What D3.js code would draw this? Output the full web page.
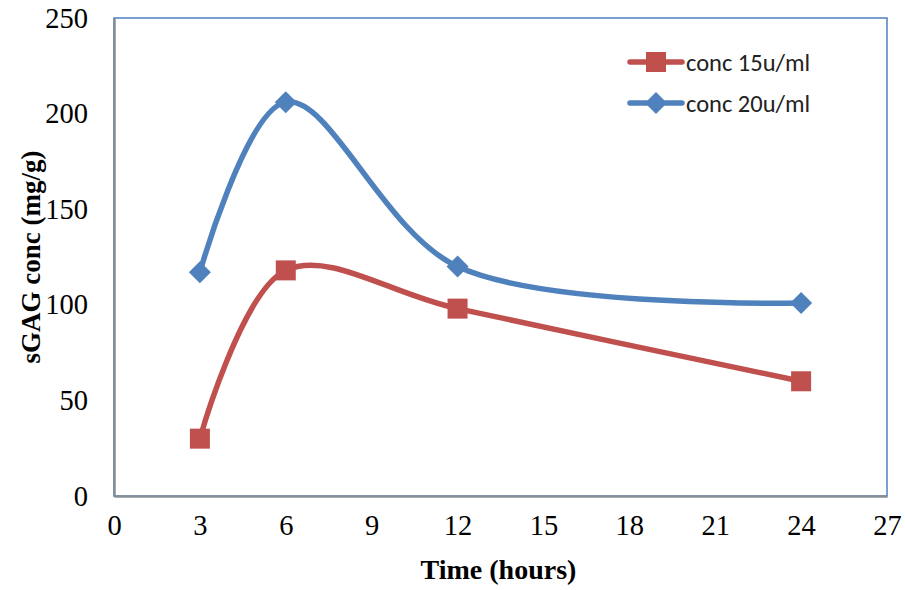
<!DOCTYPE html>
<html>
<head>
<meta charset="utf-8">
<script src="https://cdn.jsdelivr.net/npm/d3@7"></script>
<style>
  html, body { margin: 0; padding: 0; background: #fff; }
  svg { display: block; }
</style>
</head>
<body>
<svg id="chart" width="905" height="590"></svg>
<script>
// Sampling times (hours) and sGAG concentration per enzyme dose
const hours = [3, 6, 12, 24];
const conc15 = [30, 118, 98, 60];
const conc20 = [117, 206, 120, 101];
const xTicks = [0, 3, 6, 9, 12, 15, 18, 21, 24, 27];
const yTicks = [0, 50, 100, 150, 200, 250];
const seriesNames = ["conc 15u/ml", "conc 20u/ml"];

const svg = d3.select("#chart");
const margin = { left: 114, top: 18, right: 18, bottom: 94 };
const W = 905, H = 590;

const x = d3.scaleLinear().domain([0, 27]).range([margin.left, W - margin.right]);
const y = d3.scaleLinear().domain([0, 250]).range([H - margin.bottom, margin.top]);

const red = "#c0504d", blue = "#4f81bd", axisGray = "#868e96";
const tickFont = "'Liberation Serif', 'DejaVu Serif', serif";

// Plot frame: blue outline, grey axis lines on left and bottom
svg.append("rect")
  .attr("x", x(0)).attr("y", y(250))
  .attr("width", x(27) - x(0)).attr("height", y(0) - y(250))
  .attr("fill", "none").attr("stroke", blue).attr("stroke-width", 1.5);

const xAxis = svg.append("g")
  .attr("transform", `translate(0,${y(0)})`)
  .call(d3.axisBottom(x).tickValues(xTicks).tickSize(0).tickPadding(13));
const yAxis = svg.append("g")
  .attr("transform", `translate(${x(0)},0)`)
  .call(d3.axisLeft(y).tickValues(yTicks).tickSize(0).tickPadding(26));

[xAxis, yAxis].forEach(g => {
  g.select(".domain").attr("stroke", axisGray).attr("stroke-width", 2.5);
  g.selectAll("text")
    .attr("font-family", tickFont)
    .attr("font-size", 28.5)
    .attr("fill", "#000");
});
xAxis.selectAll("text").attr("dy", "0.9em");

// Axis titles
svg.append("text")
  .attr("x", (x(0) + x(27)) / 2 - 2).attr("y", 579)
  .attr("text-anchor", "middle")
  .attr("font-family", tickFont).attr("font-weight", "bold").attr("font-size", 28)
  .text("Time (hours)");

svg.append("text")
  .attr("transform", `translate(40,${(y(0) + y(250)) / 2}) rotate(-90)`)
  .attr("text-anchor", "middle")
  .attr("font-family", tickFont).attr("font-weight", "bold").attr("font-size", 27)
  .text("sGAG conc (mg/g)");

// Smoothed series lines
const line = d3.line()
  .x(d => x(d[0])).y(d => y(d[1]))
  .curve(d3.curveCatmullRom.alpha(0.5));

const series = [
  { name: seriesNames[0], values: conc15, color: red, marker: "square" },
  { name: seriesNames[1], values: conc20, color: blue, marker: "diamond" }
];

series.forEach(s => {
  const pts = hours.map((h, i) => [h, s.values[i]]);
  svg.append("path")
    .datum(pts)
    .attr("d", line)
    .attr("fill", "none")
    .attr("stroke", s.color)
    .attr("stroke-width", 5.5)
    .attr("stroke-linejoin", "round");
});

function drawMarker(g, type, cx, cy, color) {
  if (type === "square") {
    g.append("rect")
      .attr("x", cx - 10).attr("y", cy - 10)
      .attr("width", 20).attr("height", 20)
      .attr("fill", color);
  } else {
    g.append("path")
      .attr("d", `M${cx},${cy - 11}L${cx + 11},${cy}L${cx},${cy + 11}L${cx - 11},${cy}Z`)
      .attr("fill", color);
  }
}

series.forEach(s => {
  const g = svg.append("g");
  hours.forEach((h, i) => drawMarker(g, s.marker, x(h), y(s.values[i]), s.color));
});

// Legend
const legend = svg.append("g");
series.forEach((s, i) => {
  const ly = 62 + i * 41;
  legend.append("line")
    .attr("x1", 630).attr("x2", 682).attr("y1", ly).attr("y2", ly)
    .attr("stroke", s.color).attr("stroke-width", 5.5).attr("stroke-linecap", "round");
  drawMarker(legend, s.marker, 656, ly, s.color);
  legend.append("text")
    .attr("x", 686).attr("y", ly)
    .attr("dy", "0.35em")
    .attr("font-family", "Carlito, 'Open Sans', 'Liberation Sans', sans-serif")
    .attr("font-size", 24.5)
    .attr("fill", "#222")
    .text(s.name);
});
</script>
</body>
</html>
